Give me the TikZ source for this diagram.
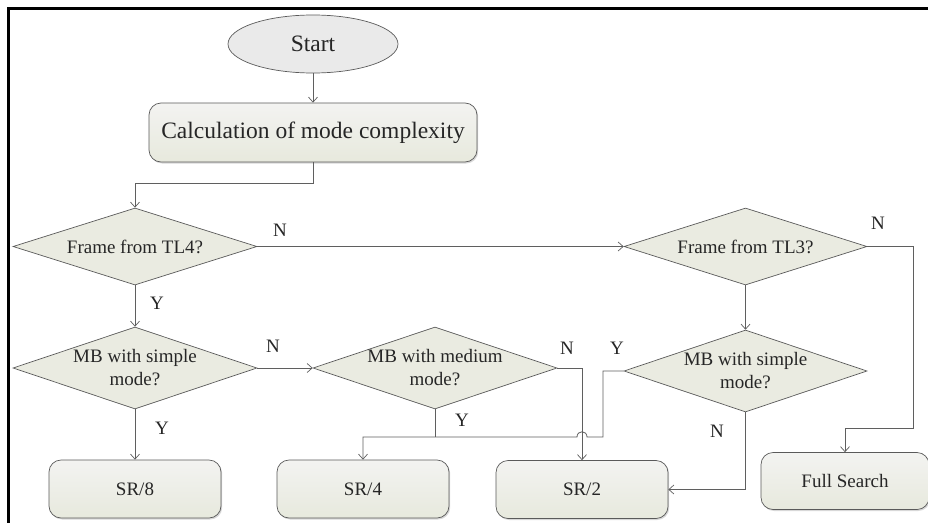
\documentclass[tikz,border=0pt]{standalone}
\usepackage{fontspec}
\setmainfont{Liberation Serif}
\usetikzlibrary{shapes.geometric,arrows.meta,shadows}
\definecolor{dfill}{RGB}{234,235,225}
\definecolor{btop}{RGB}{243,243,241}
\definecolor{bbot}{RGB}{231,233,221}
\definecolor{efill}{RGB}{234,234,234}
\definecolor{edge}{RGB}{90,90,90}
\definecolor{wire}{RGB}{95,95,95}
\begin{document}
\begin{tikzpicture}[x=1pt,y=-1pt,
  font=\fontsize{19}{23}\selectfont,
  every node/.style={text=black!85},
  bigtext/.style={font=\fontsize{23.5}{27}\selectfont},
  shadowed/.style={drop shadow={shadow xshift=1.2pt,shadow yshift=-1.5pt,fill=black!30,opacity=0.5}},
  startnode/.style={ellipse,draw=edge,line width=0.7pt,fill=efill,minimum width=170pt,minimum height=58pt,inner sep=0pt,bigtext},
  procbox/.style={rectangle,rounded corners=12pt,draw=edge,line width=0.7pt,top color=btop,bottom color=bbot,shadowed,minimum width=172pt,minimum height=58pt,inner sep=0pt},
  dia/.style={diamond,shape aspect=3,draw=edge,line width=0.7pt,fill=dfill,minimum width=244pt,minimum height=82pt,inner xsep=-20pt,inner ysep=-6pt,align=center},
  lab/.style={inner sep=1pt},
  conn/.style={draw=wire,line width=0.8pt},
  arr/.style={-{Straight Barb[length=5pt,width=9pt,line width=0.7pt]}}
]
\useasboundingbox (0,0) rectangle (928,522);
\fill[white] (0,0) rectangle (928,522);
\draw[line width=3pt,line cap=rect] (8.7,522) -- (8.7,8.7) -- (928,8.7);

% nodes
\node[startnode] (start) at (313,44) {Start};
\node[procbox,bigtext,minimum width=328pt,minimum height=59pt] (calc) at (313,132.5) {Calculation of mode complexity};
\node[dia,minimum height=77pt] (tl4) at (135,246.5) {Frame from TL4?};
\node[dia,minimum height=77pt,minimum width=243pt] (tl3) at (745.5,246.5) {Frame from TL3?};
\node[dia] (mbs1) at (135,368) {MB with simple\\mode?};
\node[dia] (mbm) at (435,368) {MB with medium\\mode?};
\node[dia,minimum width=243pt] (mbs2) at (745.5,371) {MB with simple\\mode?};
\node[procbox] (sr8) at (135,489) {SR/8};
\node[procbox] (sr4) at (363,489) {SR/4};
\node[procbox] (sr2) at (582,489.5) {SR/2};
\node[procbox,minimum width=168pt,minimum height=57pt] (full) at (845,481) {Full Search};

% labels
\node[lab] (n1) at (280,230) {N};
\node[lab] (y1) at (157,303) {Y};
\node[lab] (n2) at (878,223) {N};
\node[lab] (n3) at (273,346) {N};
\node[lab] (y2) at (162,428) {Y};
\node[lab] (n4) at (567,348) {N};
\node[lab] (y3) at (462,420) {Y};
\node[lab] (y4) at (617,348) {Y};
\node[lab] (n5) at (717,431) {N};

% helper coordinates
\coordinate (c0) at (313,183);
\coordinate (c1) at (913,428);
\coordinate (j1) at (435,437);
\coordinate (c2) at (603,437);
\coordinate (h1) at (587,437);
\coordinate (h2) at (577,437);

% connectors
\draw[conn,arr] (start) -- (calc);
\draw[conn,arr] (calc.south) -- (c0) -| (tl4.north);
\draw[conn,arr] (tl4) -- (mbs1);
\draw[conn,arr] (tl4) -- (tl3);
\draw[conn,arr] (tl3) -- (mbs2);
\draw[conn,arr] (tl3.east) -| (c1) -| (full.north);
\draw[conn,arr] (mbs1) -- (mbm);
\draw[conn,arr] (mbs1) -- (sr8);
\draw[conn,arr] (mbm.east) -| (sr2.north);
\draw[conn] (mbm.south) -- (j1);
\draw[conn,arr] (mbs2.west) -| (c2) -- (h1) .. controls (587,430) and (577,430) .. (h2) -| (sr4.north);
\draw[conn,arr] (mbs2.south) |- (sr2.east);
\end{tikzpicture}
\end{document}
